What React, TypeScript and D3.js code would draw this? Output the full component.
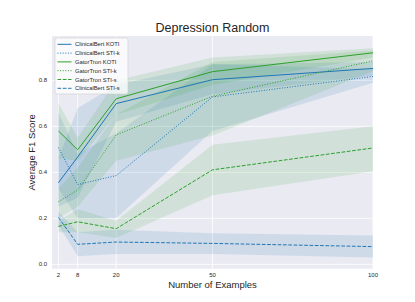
import React from "react";
import * as d3 from "d3";

const xs = [2, 8, 20, 50, 100];
const xTicks = [2, 8, 20, 50, 100];
const yTicks = [0, 0.2, 0.4, 0.6, 0.8];

const names = [
  "ClinicalBert KOTI",
  "ClinicalBert STI-k",
  "GatorTron KOTI",
  "GatorTron STI-k",
  "GatorTron STI-s",
  "ClinicalBert STI-s",
];
const colors = ["#1f77b4", "#1f77b4", "#2ca02c", "#2ca02c", "#2ca02c", "#1f77b4"];
const styles = ["solid", "dotted", "solid", "dotted", "dashed", "dashed"];

const cbKoti = [0.355, 0.467, 0.699, 0.803, 0.852];
const cbKotiLo = [0.25, 0.29, 0.62, 0.74, 0.82];
const cbKotiHi = [0.46, 0.68, 0.78, 0.87, 0.88];

const cbStik = [0.508, 0.347, 0.386, 0.728, 0.817];
const cbStikLo = [0.33, 0.2, 0.2, 0.58, 0.79];
const cbStikHi = [0.66, 0.48, 0.57, 0.87, 0.85];

const gtKoti = [0.58, 0.498, 0.72, 0.838, 0.92];
const gtKotiLo = [0.46, 0.45, 0.65, 0.78, 0.9];
const gtKotiHi = [0.7, 0.55, 0.8, 0.9, 0.94];

const gtStik = [0.272, 0.323, 0.563, 0.731, 0.885];
const gtStikLo = [0.2, 0.25, 0.45, 0.56, 0.84];
const gtStikHi = [0.33, 0.42, 0.65, 0.88, 0.93];

const gtStis = [0.165, 0.185, 0.155, 0.411, 0.506];
const gtStisLo = [0.14, 0.14, 0.115, 0.3, 0.405];
const gtStisHi = [0.19, 0.24, 0.19, 0.52, 0.6];

const cbStis = [0.204, 0.087, 0.097, 0.091, 0.077];
const cbStisLo = [0.17, 0.035, 0.045, 0.045, 0.03];
const cbStisHi = [0.23, 0.14, 0.15, 0.135, 0.125];

const means = [cbKoti, cbStik, gtKoti, gtStik, gtStis, cbStis];
const lows = [cbKotiLo, cbStikLo, gtKotiLo, gtStikLo, gtStisLo, cbStisLo];
const highs = [cbKotiHi, cbStikHi, gtKotiHi, gtStikHi, gtStisHi, cbStisHi];

const W = 415;
const H = 302;
const L = 52;
const R = 373;
const T = 36;
const B = 268.7;
const FONT = "'Liberation Sans', Arial, sans-serif";

function dashFor(s: string) {
  if (s === "dashed") return "3.7,1.6";
  if (s === "dotted") return "1,1.6";
  return undefined;
}

export default function App() {
  const x = d3.scaleLinear().domain([0, 100]).range([L, R]);
  const y = d3.scaleLinear().domain([-0.019, 0.993]).range([B, T]);

  const line = d3
    .line<number>()
    .x((_, i) => x(xs[i]))
    .y((d) => y(d));

  const area = (lo: number[], hi: number[]) =>
    d3
      .area<number>()
      .x((_, i) => x(xs[i]))
      .y0((_, i) => y(lo[i]))
      .y1((_, i) => y(hi[i]))(xs);

  const legX = 55;
  const legY = 38;
  const legRow = 8.8;

  return (
    <svg
      width={W}
      height={H}
      style={{ position: "absolute", left: 0, top: 0, background: "#fff" }}
      fontFamily={FONT}
    >
      <rect x={L} y={T} width={R - L} height={B - T} fill="#EAEAF2" />
      {xTicks.map((t) => (
        <line key={"gx" + t} x1={x(t)} x2={x(t)} y1={T} y2={B} stroke="#fff" strokeWidth={0.8} />
      ))}
      {yTicks.map((t) => (
        <line key={"gy" + t} x1={L} x2={R} y1={y(t)} y2={y(t)} stroke="#fff" strokeWidth={0.8} />
      ))}
      <g>
        {names.map((n, i) => (
          <path key={"a" + n} d={area(lows[i], highs[i]) || ""} fill={colors[i]} fillOpacity={0.13} stroke="none" />
        ))}
      </g>
      <g>
        {names.map((n, i) => (
          <path
            key={"l" + n}
            d={line(means[i]) || ""}
            fill="none"
            stroke={colors[i]}
            strokeWidth={1}
            strokeDasharray={dashFor(styles[i])}
          />
        ))}
      </g>
      {xTicks.map((t) => (
        <text key={"tx" + t} x={x(t)} y={277} fontSize={6} fill="#262626" textAnchor="middle">
          {t}
        </text>
      ))}
      {yTicks.map((t) => (
        <text key={"ty" + t} x={47} y={y(t) + 2} fontSize={6} fill="#262626" textAnchor="end">
          {t.toFixed(1)}
        </text>
      ))}
      <text x={(L + R) / 2} y={32} fontSize={12.5} fill="#262626" textAnchor="middle">
        Depression Random
      </text>
      <text x={(L + R) / 2} y={288} fontSize={9.5} fill="#262626" textAnchor="middle">
        Number of Examples
      </text>
      <text
        x={0}
        y={0}
        fontSize={9.5}
        fill="#262626"
        textAnchor="middle"
        transform={`translate(35,${(T + B) / 2}) rotate(-90)`}
      >
        Average F1 Score
      </text>
      <g>
        <rect
          x={legX}
          y={legY}
          width={73}
          height={56}
          rx={2}
          fill="#ffffff"
          fillOpacity={0.75}
          stroke="#cccccc"
          strokeWidth={0.6}
        />
        {names.map((n, i) => {
          const cy = legY + 6.3 + i * legRow;
          return (
            <g key={"lg" + n}>
              <line
                x1={legX + 2.5}
                x2={legX + 16.5}
                y1={cy}
                y2={cy}
                stroke={colors[i]}
                strokeWidth={1}
                strokeDasharray={dashFor(styles[i])}
              />
              <text x={legX + 20} y={cy + 2.1} fontSize={5.8} fill="#262626">
                {n}
              </text>
            </g>
          );
        })}
      </g>
    </svg>
  );
}
